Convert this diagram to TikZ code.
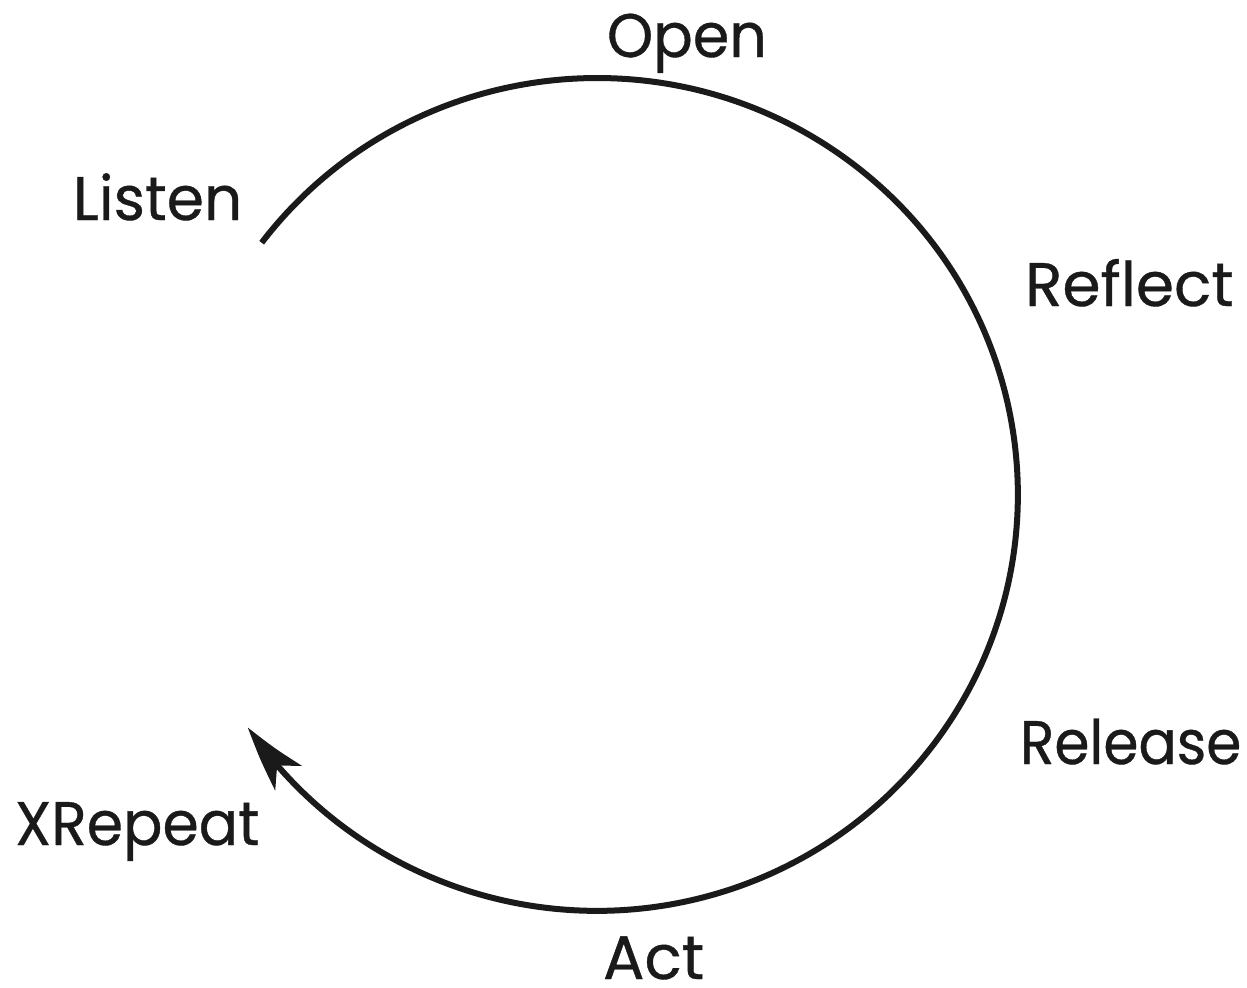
\documentclass[tikz,border=0pt]{standalone}
\usepackage{fontspec}
\usepackage{graphicx}
\newfontfamily\lblfont{Poppins}[FakeBold=0.6]
\usetikzlibrary{arrows.meta,bending,calc}
\definecolor{ink}{HTML}{1A1A1A}
\begin{document}
\begin{tikzpicture}[x=0.02cm,y=-0.02cm,
  lbl/.style={anchor=base west,inner sep=0pt,outer sep=0pt,text=ink,font=\lblfont\fontsize{35}{40}\selectfont},
  cyc/.style={draw=ink,line width=0.12cm,-{Stealth[length=1.3cm,width=0.72cm,inset=0.34cm,bend]}}]
\useasboundingbox (0,0) rectangle (1247,987);
\fill[white] (0,0) rectangle (1247,987);
\node[lbl] (open) at (607,57) {\scalebox{0.955}[1]{Open}};
\node[lbl] (listen) at (73,220) {\scalebox{0.975}[1]{Listen}};
\node[lbl] (reflect) at (1025,306) {Reflect};
\node[lbl] (release) at (1020,764) {\scalebox{0.92}[1]{Release}};
\node[lbl] (repeat) at (15,845) {\scalebox{0.95}[1]{XRepeat}};
\node[lbl] (act) at (603,979) {Act};
\coordinate (ctr) at (597,494.5);
\coordinate (s) at ($(ctr)+(-142.8:421 and 416.5)$);
\draw[cyc] (s) arc[start angle=142.8,end angle=-146,x radius=8.42cm,y radius=8.33cm];
\end{tikzpicture}
\end{document}
